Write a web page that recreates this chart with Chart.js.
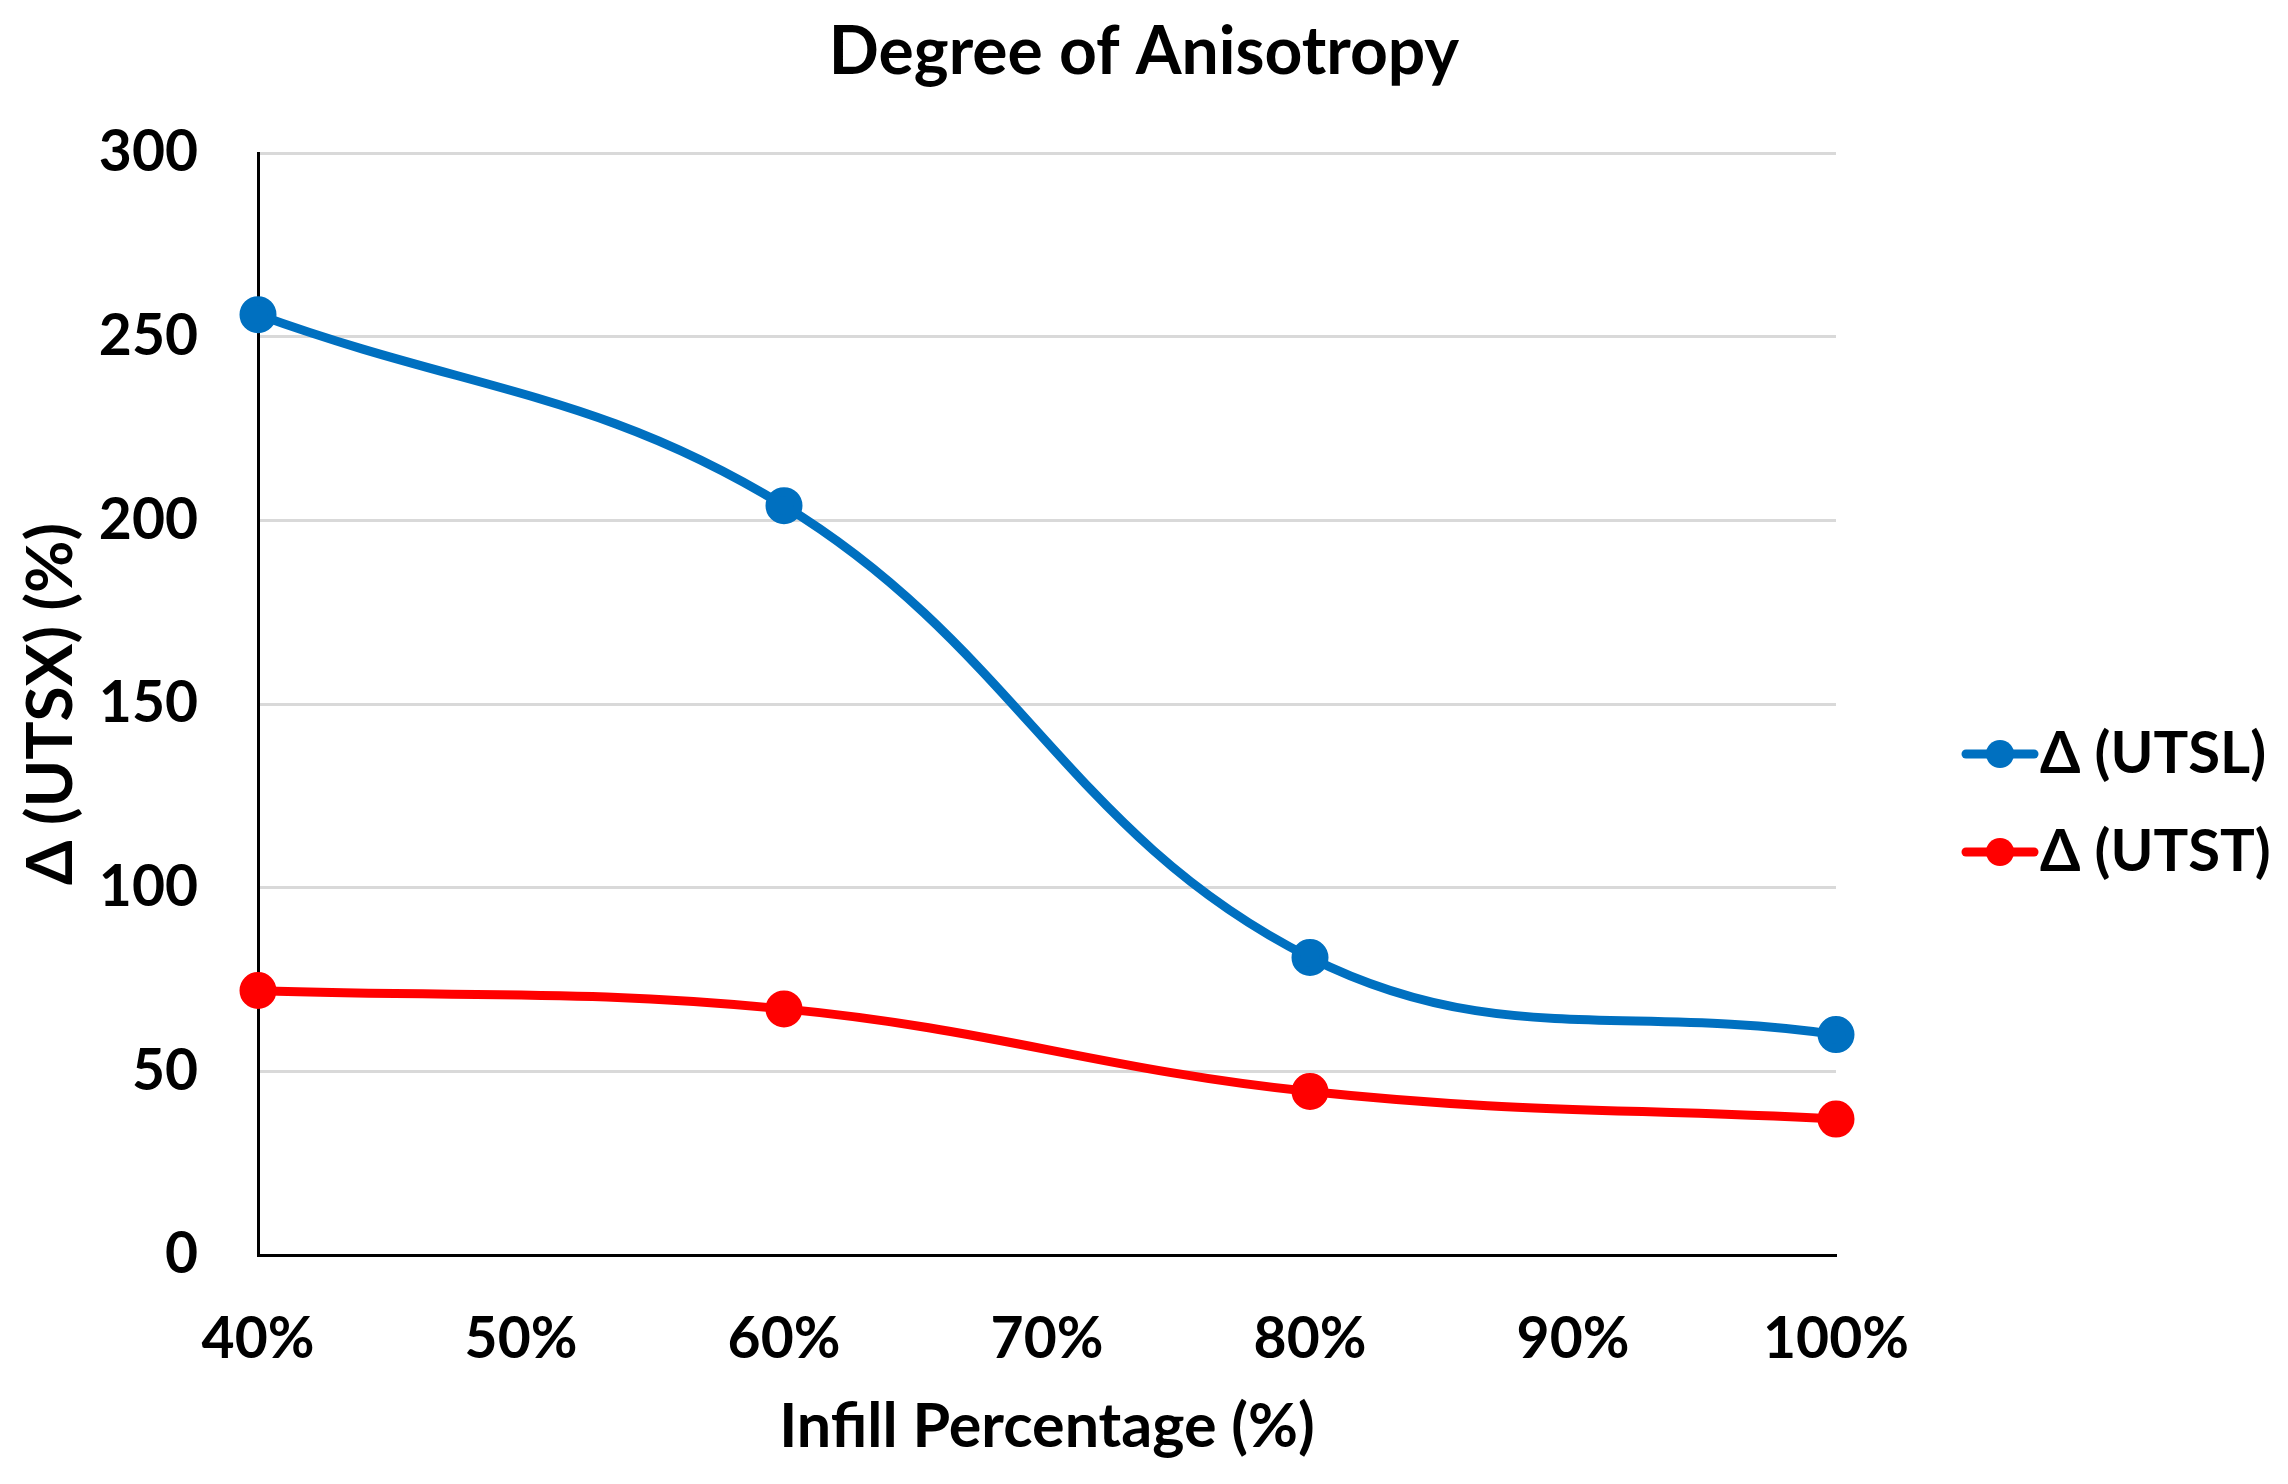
<!DOCTYPE html>
<html>
<head>
<meta charset="utf-8">
<script src="https://cdn.jsdelivr.net/npm/chart.js@4"></script>
<style>
  html, body { margin: 0; padding: 0; background: #fff; }
  #wrap { width: 2288px; height: 1484px; }
</style>
</head>
<body>
<div id="wrap"><canvas id="anisoChart" width="2288" height="1484"></canvas></div>
<script>
// Degree of anisotropy vs infill
const infill = [40, 60, 80, 100];
const utsl = [256, 204, 81, 60];
const utst = [72, 67, 44.5, 37];
const seriesNames = ['Δ (UTSL)', 'Δ (UTST)'];
const seriesColors = ['#0070C0', '#FF0000'];
const chartTitle = 'Degree of Anisotropy';

const FONT = 'Lato';

// title centred on the whole canvas + Excel-style legend (line with dot)
const decorPlugin = {
  id: 'decor',
  afterDraw(chart) {
    const ctx = chart.ctx;
    ctx.save();
    ctx.fillStyle = '#000';
    ctx.font = 'bold 66px ' + FONT;
    ctx.textAlign = 'center';
    ctx.textBaseline = 'middle';
    ctx.fillText(chartTitle, chart.width / 2, 53);

    const rows = [754, 852];
    chart.data.datasets.forEach((ds, i) => {
      const y = rows[i];
      ctx.strokeStyle = ds.borderColor;
      ctx.lineWidth = 9;
      ctx.lineCap = 'round';
      ctx.beginPath();
      ctx.moveTo(1966, y);
      ctx.lineTo(2034, y);
      ctx.stroke();
      ctx.fillStyle = ds.borderColor;
      ctx.beginPath();
      ctx.arc(2000, y, 14, 0, Math.PI * 2);
      ctx.fill();
      ctx.fillStyle = '#000';
      ctx.font = 'bold 58px ' + FONT;
      ctx.textAlign = 'left';
      ctx.fillText(ds.label, 2040, y);
    });
    ctx.restore();
  }
};

const ctx = document.getElementById('anisoChart').getContext('2d');
const anisoChart = new Chart(ctx, {
  type: 'line',
  data: {
    datasets: [utsl, utst].map((vals, i) => ({
      label: seriesNames[i],
      data: infill.map((x, j) => ({ x: x, y: vals[j] })),
      borderColor: seriesColors[i],
      backgroundColor: seriesColors[i],
      borderWidth: 9,
      pointRadius: 14,
      pointHoverRadius: 14,
      tension: 0.4,
      clip: false
    }))
  },
  options: {
    responsive: false,
    animation: false,
    layout: { padding: { left: 0, right: 452, top: 153, bottom: 20 } },
    plugins: {
      legend: { display: false },
      tooltip: { enabled: false },
      title: { display: false }
    },
    scales: {
      x: {
        type: 'linear',
        min: 40,
        max: 100,
        afterFit: s => { s.height = 209; },
        grid: { display: false, drawTicks: false },
        border: { color: '#000', width: 3 },
        ticks: {
          stepSize: 10,
          padding: 50,
          maxRotation: 0,
          autoSkip: false,
          color: '#000',
          font: { family: FONT, size: 57, weight: 'bold' },
          callback: v => v + '%'
        },
        title: {
          display: true,
          text: 'Infill Percentage (%)',
          color: '#000',
          font: { family: FONT, size: 61, weight: 'bold' },
          padding: { top: 0, bottom: 0 }
        }
      },
      y: {
        min: 0,
        max: 300,
        afterFit: s => { s.width = 258; },
        grid: { color: '#d9d9d9', lineWidth: 3, drawTicks: false },
        border: { color: '#000', width: 3 },
        ticks: {
          stepSize: 50,
          padding: 60,
          color: '#000',
          font: { family: FONT, size: 57, weight: 'bold' }
        },
        title: {
          display: true,
          text: 'Δ (UTSX) (%)',
          color: '#000',
          font: { family: FONT, size: 64, weight: 'bold' },
          padding: { top: 13, bottom: 0 }
        }
      }
    }
  },
  plugins: [decorPlugin]
});
</script>
</body>
</html>
